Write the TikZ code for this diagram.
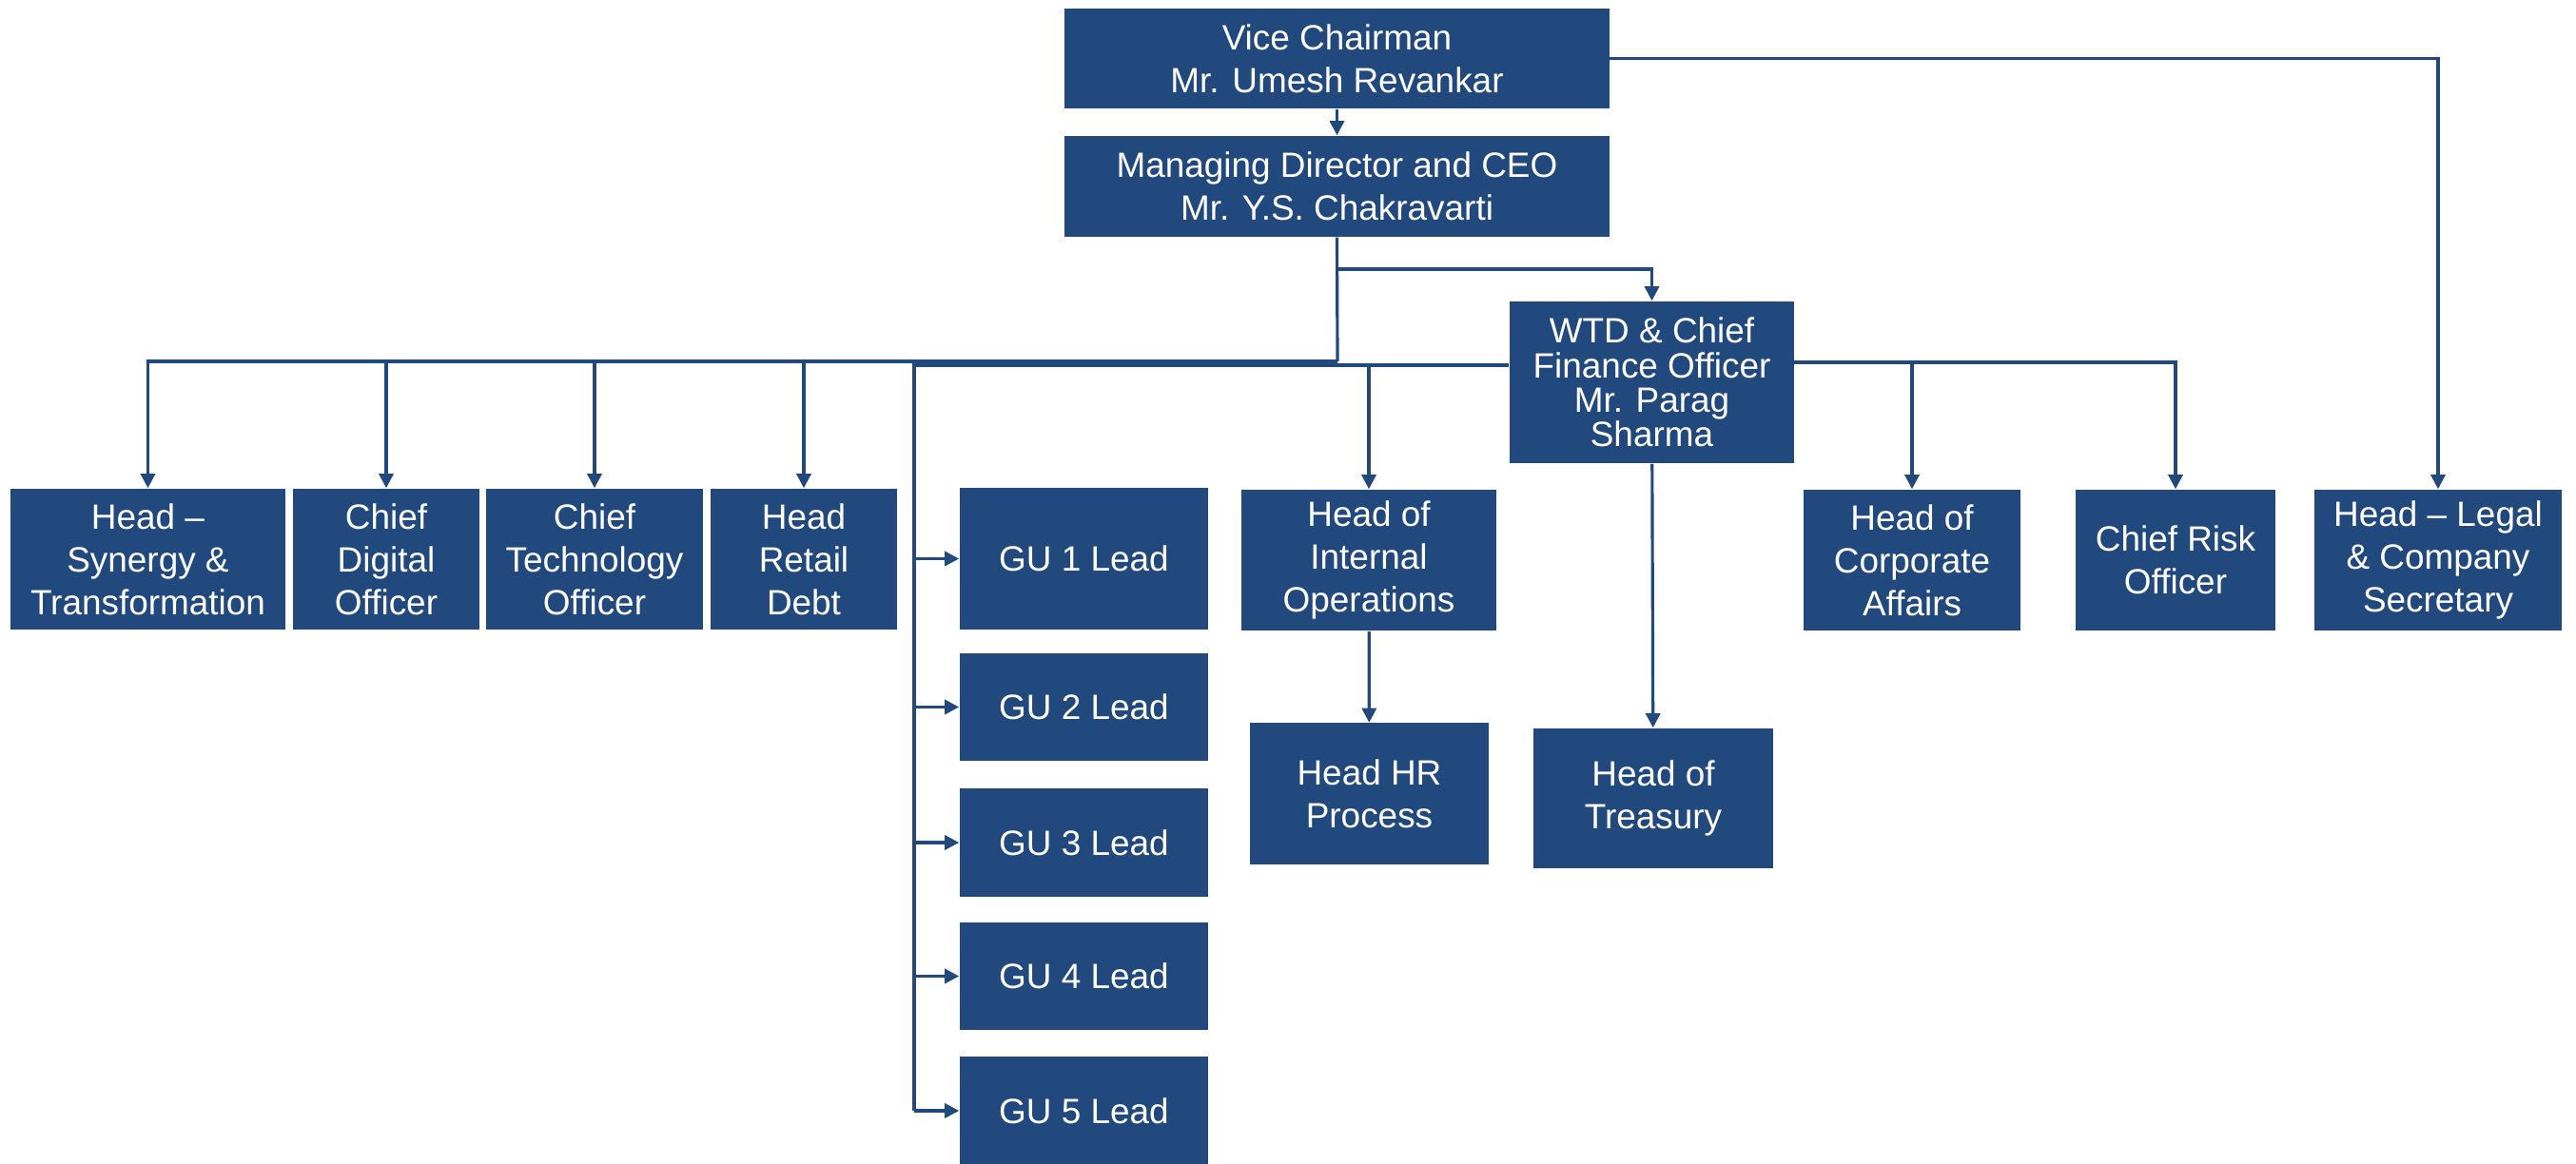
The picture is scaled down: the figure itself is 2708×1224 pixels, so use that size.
\documentclass[tikz,border=0pt]{standalone}
\usepackage{fontspec}
\setmainfont{Liberation Sans}
\usepackage{tikz}
\usetikzlibrary{arrows.meta,positioning}
\definecolor{orgblue}{RGB}{33,73,125}
\tikzset{
  org box/.style  = {rectangle, fill=orgblue, text=white, align=center,
                     inner sep=1pt, font=\fontsize{10.5}{12.8}\selectfont},
  tight box/.style = {org box, font=\fontsize{10.5}{10.3}\selectfont},
  row box/.style  = {org box, minimum height=1.48cm},
  gu box/.style   = {org box, minimum width=2.61cm, minimum height=1.13cm},
  arr/.style      = {-{Triangle[length=4.3pt,width=4.3pt]}, line width=0.9pt, orgblue},
  bus/.style      = {line width=0.9pt, orgblue},
}

\begin{document}
\begin{tikzpicture}[x=0.01cm, y=-0.01cm]
  \useasboundingbox (0,0) rectangle (2708,1224);

  %% --- top of the chart ---------------------------------------
  \node[org box, minimum width=5.72cm, minimum height=1.05cm] (vc) at (1405.5,61.5)
    {Vice Chairman\\Mr. Umesh Revankar};
  \node[org box, minimum width=5.72cm, minimum height=1.06cm] (md) at (1405.5,196)
    {Managing Director and CEO\\Mr. Y.S. Chakravarti};
  \node[tight box, minimum width=2.99cm, minimum height=1.70cm] (wtd) at (1736.5,402)
    {WTD \& Chief\\Finance Officer\\Mr. Parag\\Sharma};

  %% --- second row ---------------------------------------------
  \node[row box, minimum width=2.89cm] (syn) at (155.5,588) {Head --\\Synergy \&\\Transformation};
  \node[row box, minimum width=1.96cm] (dig) at (406,588) {Chief\\Digital\\Officer};
  \node[row box, minimum width=2.28cm] (cto) at (625,588) {Chief\\Technology\\Officer};
  \node[row box, minimum width=1.96cm] (ret) at (845,588) {Head\\Retail\\Debt};
  \node[gu box, minimum height=1.49cm] (gu1) at (1139.5,587.5) {GU 1 Lead};
  \node[row box, minimum width=2.67cm] (iops) at (1439,589) {Head of\\Internal\\Operations};
  \node[row box, minimum width=2.28cm] (corp) at (2010,589) {Head of\\Corporate\\Affairs};
  \node[row box, minimum width=2.10cm] (cro) at (2287,589) {Chief Risk\\Officer};
  \node[row box, minimum width=2.60cm] (legal) at (2563,589) {Head -- Legal\\\& Company\\Secretary};

  %% --- lower boxes --------------------------------------------
  \foreach \n/\y in {2/743.5,3/886,4/1026.5,5/1168}
    \node[gu box] (gu\n) at (1139.5,\y) {GU \n\ Lead};
  \node[org box, minimum width=2.51cm, minimum height=1.48cm] (hr) at (1439.5,834.5)
    {Head HR\\Process};
  \node[org box, minimum width=2.51cm, minimum height=1.47cm] (treas) at (1738,839.5)
    {Head of\\Treasury};

  %% --- connectors ---------------------------------------------
  \coordinate (mdbus) at (1406,380);
  \coordinate (wtdjoin) at (1406,283);
  \coordinate (gubus) at (961,384);
  \coordinate (wtdbus) at (1886,381);

  \draw[arr] (vc) -- (md);
  \draw[arr] (vc.east) -| (legal.north);
  \draw[bus] (md.south) -- (mdbus);
  \draw[arr] (wtdjoin) -| (wtd.north);
  \foreach \b in {syn,dig,cto,ret}
    \draw[arr] (mdbus) -| (\b.north);

  \draw[bus] (wtd.west |- gubus) -- (gubus) -- (gubus |- gu5);
  \foreach \n in {1,...,5}
    \draw[arr] (gubus |- gu\n) -- (gu\n.west);
  \draw[arr] (iops.north |- gubus) -- (iops.north);
  \draw[arr] (iops) -- (hr);

  \foreach \b in {corp,cro}
    \draw[arr] (wtdbus) -| (\b.north);
  \draw[arr] (wtd) -- (treas);
\end{tikzpicture}
\end{document}
